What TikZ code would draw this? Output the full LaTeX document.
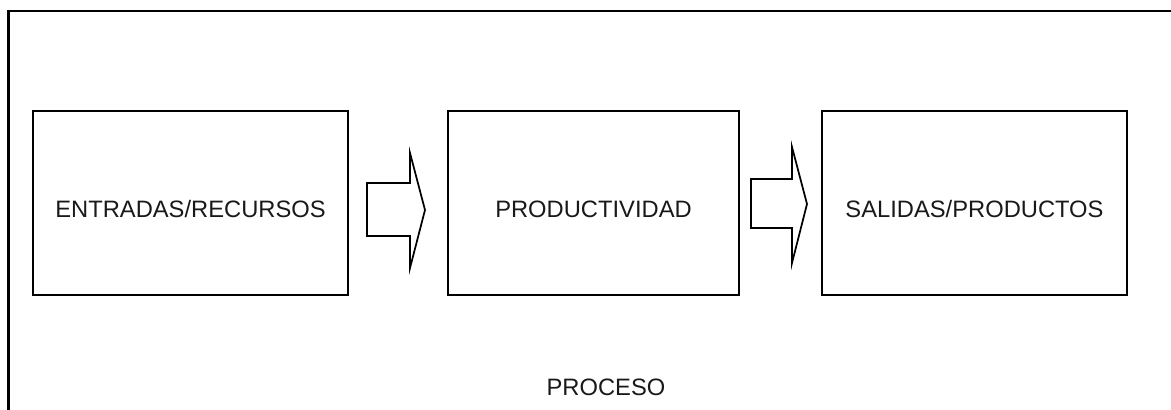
\documentclass[tikz,border=0pt]{standalone}
\usepackage{fontspec}
\setmainfont{Liberation Sans}
\usetikzlibrary{positioning, calc}

\tikzset{
  caja/.style={draw, line width=1.7pt, minimum width=#1, minimum height=138pt, inner sep=0pt},
  flecha/.style={draw, line width=1.3pt, line join=miter, fill=white},
  rotulo/.style={font=\fontsize{17.8}{20}\selectfont, text=black!90, inner sep=0pt}
}

\begin{document}
\begin{tikzpicture}[x=0.75pt, y=-0.75pt]
  \useasboundingbox (0,0) rectangle (1171,410);
  % marco del proceso
  \begin{scope}
    \clip (0,0) rectangle (1171,410);
    \draw[line width=1.7pt] (8.5,11) rectangle (1171.8,430);
  \end{scope}

  % cajas
  \node[caja=236.25pt] (entradas) at (190.5,203) {};
  \node[caja=218.25pt] (productividad) at (593.5,203) {};
  \node[caja=228.75pt] (salidas) at (974.5,203) {};

  \node[rotulo] at ($(entradas.center)+(0,6.5)$) {ENTRADAS/RECURSOS};
  \node[rotulo] at ($(productividad.center)+(0,6.5)$) {PRODUCTIVIDAD};
  \node[rotulo] at ($(salidas.center)+(0,6.5)$) {SALIDAS/PRODUCTOS};

  % flechas de bloque
  \draw[flecha] (367,183) -- (410,183) -- (410,153) -- (425,210)
    -- (410,268) -- (410,236) -- (367,236) -- cycle;
  \draw[flecha] (751,179) -- (792,179) -- (792,147) -- (807,204)
    -- (792,263) -- (792,228) -- (751,228) -- cycle;

  \node[rotulo] (proceso) at (606,387) {PROCESO};
\end{tikzpicture}
\end{document}
